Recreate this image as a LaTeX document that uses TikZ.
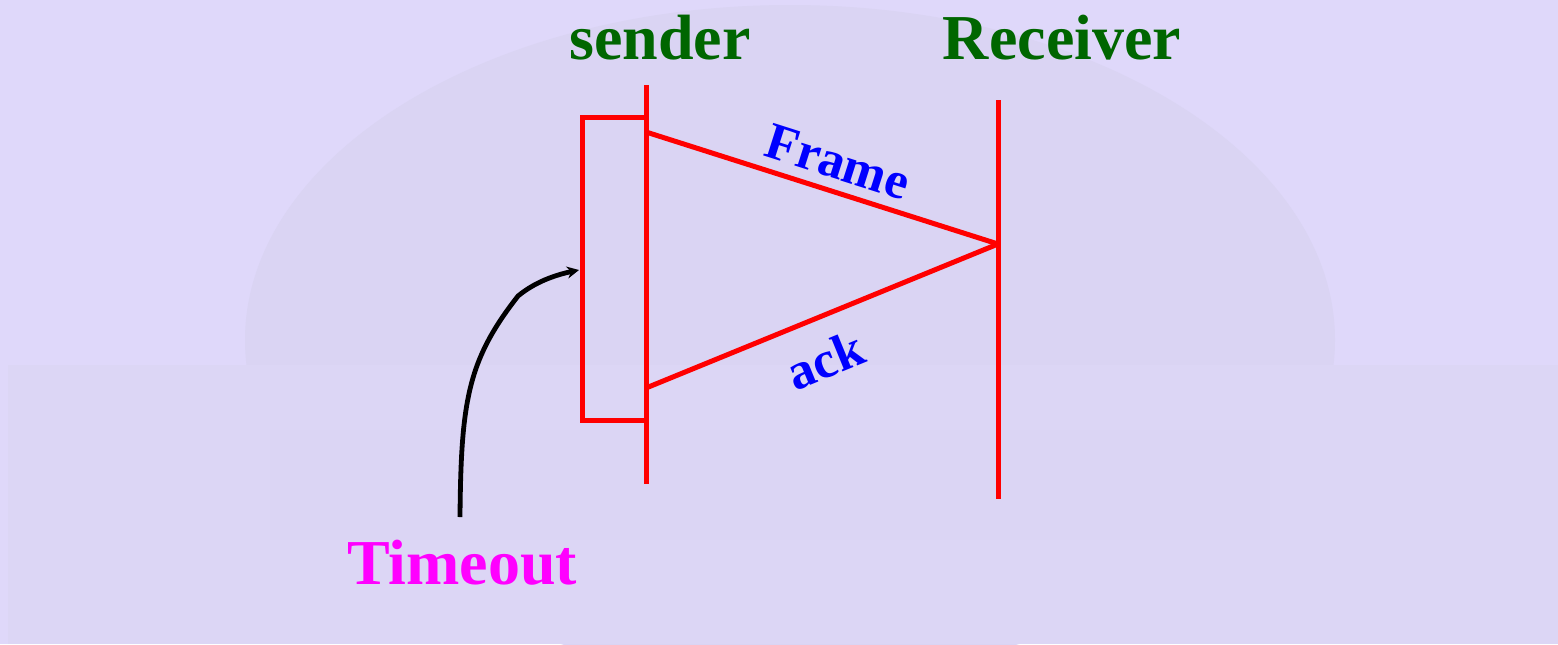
\documentclass[tikz,border=0pt]{standalone}
\usepackage{fontspec}
\setmainfont{Liberation Serif}
\usetikzlibrary{arrows.meta}
\definecolor{bgc}{HTML}{DFD8FA}
\definecolor{domec}{HTML}{DAD4F3}
\definecolor{groundc}{HTML}{DCD6F5}
\definecolor{tgreen}{HTML}{006600}
\definecolor{tblue}{HTML}{0000FF}
\definecolor{tmag}{HTML}{FF00FF}
\tikzset{
  redline/.style={draw=red, line width=2.5pt},
  lbl/.style={font=\bfseries\fontsize{32}{36}\selectfont, inner sep=0pt},
  msg/.style={font=\bfseries\fontsize{26}{30}\selectfont, text=tblue, inner sep=0pt},
  pointer/.style={draw=black, line width=2.4pt, -{Stealth[length=6pt,width=6pt]}}
}
\begin{document}
\begin{tikzpicture}[x=0.5pt,y=-0.5pt]
\fill[bgc] (0,0) rectangle (1558,644);
\useasboundingbox (0,0) rectangle (1558,644);
% faint background photo shapes
\fill[domec] (790,340) ellipse [x radius=545, y radius=335];
\fill[groundc] (8,365) rectangle (1558,644);
\fill[domec!50!groundc] (270,430) rectangle (1270,540);
% labels
\node[lbl, text=tgreen] (snd) at (660,38) {sender};
\node[lbl, text=tgreen] (rcv) at (1062,38) {Receiver};
\node[lbl, text=tmag] (tmo) at (462,563) {Timeout};
% time lines
\coordinate (s1) at (646,85);
\coordinate (s2) at (646,484);
\coordinate (r1) at (998,100);
\coordinate (r2) at (998,499);
\draw[redline] (s1) -- (s2);
\draw[redline] (r1) -- (r2);
% timer box
\coordinate (bt) at (646,117);
\coordinate (bb) at (646,420);
\draw[redline] (bt) -- (582,117) -- (582,420) -- (bb);
% frame and ack
\coordinate (fs) at (646,132);
\coordinate (fr) at (998,244);
\coordinate (as) at (646,388);
\draw[redline] (fs) -- (fr);
\draw[redline] (fr) -- (as);
\node[msg, rotate=-17.65] (frm) at (838,162) {Frame};
\node[msg, rotate=22.2] (ack) at (825,360) {ack};
% timeout pointer
\coordinate (p0) at (460,517);
\coordinate (p1) at (579,270);
\draw[pointer] (p0) .. controls (461,400) and (468,360) .. (518,296) .. controls (535,282) and (555,275) .. (p1);
\end{tikzpicture}
\end{document}
